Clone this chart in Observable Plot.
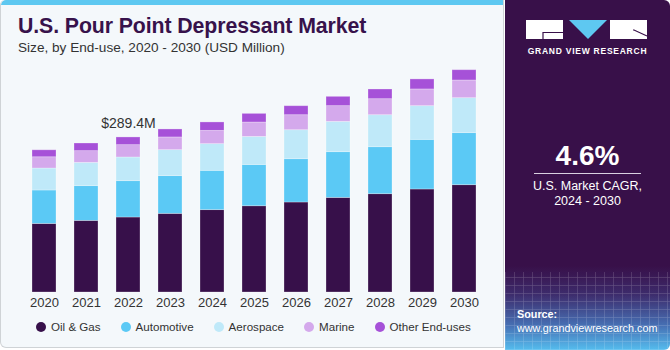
<!DOCTYPE html>
<html>
<head>
<meta charset="utf-8">
<script src="https://cdn.jsdelivr.net/npm/d3@7"></script>
<script src="https://cdn.jsdelivr.net/npm/@observablehq/plot@0.6"></script>
<style>
  html, body { margin: 0; padding: 0; background: #ffffff; }
  body { width: 670px; height: 350px; overflow: hidden; font-family: "Liberation Sans", Arial, sans-serif; }
  #wrap { position: relative; width: 670px; height: 350px; }
  #left { position: absolute; left: 0; top: 0; width: 504px; height: 348px; background: #f4f8fb;
          border: 1px solid #cfd3d6; border-top: none; border-radius: 5px 0 0 6px; box-sizing: border-box; overflow: hidden; }
  #strip { position: absolute; left: 0; top: 0; width: 504px; height: 5px; background: #5ec8f1; border-radius: 5px 0 0 0; }
  #title { position: absolute; left: 17px; top: 14px; font-size: 21.3px; font-weight: bold; color: #37124b; white-space: nowrap; letter-spacing: -0.1px; }
  #subtitle { position: absolute; left: 17px; top: 40px; font-size: 13.6px; color: #333; white-space: nowrap; }
  #chart { position: absolute; left: 0; top: 60px; }
  #legend { position: absolute; left: 35px; top: 320px; display: flex; gap: 20px; font-size: 11.6px; color: #333; white-space: nowrap; }
  #legend .item { display: flex; align-items: center; }
  #legend .dot { width: 10px; height: 10px; border-radius: 50%; margin-right: 5px; }
  #right { position: absolute; left: 505px; top: 0; width: 165px; height: 350px; border-radius: 0 6px 6px 0; overflow: hidden;
           background: linear-gradient(180deg, #381049 0%, #381049 76%, #3e2c6c 84%, #4770b4 93%, #56bdee 100%); }
  #grid { position: absolute; left: 0; top: 272px; width: 165px; height: 78px; opacity: 0.22;
          background-image: repeating-linear-gradient(90deg, rgba(255,255,255,0.6) 0 1px, transparent 1px 9px),
                            repeating-linear-gradient(0deg, rgba(255,255,255,0.6) 0 1px, transparent 1px 8px); }
  #gvr { position: absolute; left: 0; top: 46px; width: 165px; text-align: center; color: #fff; font-size: 8.5px; font-weight: bold; letter-spacing: 0.75px; }
  #cagr { position: absolute; left: 0; top: 140px; width: 165px; text-align: center; color: #fff; font-size: 28px; font-weight: bold; }
  #rule { position: absolute; left: 29px; top: 173px; width: 107px; height: 1px; background: #d8d0e0; }
  #cagrtxt { position: absolute; left: 0; top: 179px; width: 165px; text-align: center; color: #fff; font-size: 12.5px; line-height: 15px; }
  #source { position: absolute; left: 12px; top: 307px; color: #fff; font-size: 10.8px; line-height: 14px; white-space: nowrap; }
</style>
</head>
<body>
<div id="wrap">
  <div id="left">
    <div id="strip"></div>
    <div id="title">U.S. Pour Point Depressant Market</div>
    <div id="subtitle">Size, by End-use, 2020 - 2030 (USD Million)</div>
    <div id="chart"></div>
    <div id="legend"></div>
  </div>
  <div id="right">
    <div id="grid"></div>
    <svg style="position:absolute;left:21px;top:20px" width="122" height="20" viewBox="0 0 122 20">
      <rect x="0" y="0" width="37" height="19" fill="#fff"/>
      <path d="M17 19 V12.5 H37" fill="none" stroke="#381049" stroke-width="1.2"/>
      <polygon points="43,0 81,0 62,19" fill="#5ec8f1"/>
      <rect x="84" y="0" width="37" height="19" fill="#fff"/>
      <path d="M107 10 H108 L121 16" fill="none" stroke="#381049" stroke-width="1.2"/>
    </svg>
    <div id="gvr">GRAND VIEW RESEARCH</div>
    <div id="cagr">4.6%</div>
    <div id="rule"></div>
    <div id="cagrtxt">U.S. Market CAGR,<br>2024 - 2030</div>
    <div id="source"><b>Source:</b><br>www.grandviewresearch.com</div>
  </div>
</div>
<script>
// ---- data (USD Million) ----
const years = ["2020","2021","2022","2023","2024","2025","2026","2027","2028","2029","2030"];
const segments = ["Oil & Gas","Automotive","Aerospace","Marine","Other End-uses"];
const colors = ["#37104a","#5bc9f5","#bfe9f9","#d4a9ec","#a651d8"];
const oilGas     = [128.0, 133.7, 140.0, 146.8, 153.7, 161.0, 168.0, 176.6, 183.5, 192.3, 200.3];
const automotive = [ 62.4,  64.8,  67.8,  70.4,  73.4,  77.1,  80.8,  85.3,  87.7,  92.6,  97.1];
const aerospace  = [ 41.0,  43.5,  44.2,  48.5,  49.8,  52.3,  54.1,  56.6,  59.7,  62.9,  65.3];
const marine     = [ 21.0,  21.8,  23.0,  23.7,  24.8,  26.9,  28.0,  29.3,  29.9,  31.2,  33.0];
const otherUses  = [ 13.0,  14.3,  14.4,  14.9,  15.7,  16.1,  16.8,  17.4,  18.1,  18.7,  19.2];
const labelYear = "2022";
const labelValue = 289.4;
const labelText = "$289.4M";

const series = [oilGas, automotive, aerospace, marine, otherUses];
const rows = [];
segments.forEach((s, i) => years.forEach((y, j) => rows.push({year: y, segment: s, value: series[i][j]})));

const chart = Plot.plot({
  width: 500,
  height: 250,
  marginTop: 0,
  marginBottom: 18,
  marginLeft: 22,
  marginRight: 16,
  style: {background: "transparent", fontSize: "13px", fontFamily: "'Liberation Sans', Arial, sans-serif", color: "#333"},
  x: {domain: years, paddingInner: 0.43, paddingOuter: 0.215, label: null, tickSize: 0, tickPadding: 5},
  y: {domain: [0, 433], axis: null},
  color: {domain: segments, range: colors},
  marks: [
    Plot.barY(rows, {x: "year", y: "value", fill: "segment", stroke: "#ffffff", strokeOpacity: 0.35, strokeWidth: 0.8}),
    Plot.text([{year: labelYear, value: labelValue}], {x: "year", y: "value", text: () => labelText, dy: -9, lineAnchor: "bottom", fontSize: 14, fill: "#333"})
  ]
});
document.getElementById("chart").appendChild(chart);

const legend = document.getElementById("legend");
segments.forEach((s, i) => {
  const it = document.createElement("div");
  it.className = "item";
  it.innerHTML = `<span class="dot" style="background:${colors[i]}"></span><span>${s}</span>`;
  legend.appendChild(it);
});
</script>
</body>
</html>
